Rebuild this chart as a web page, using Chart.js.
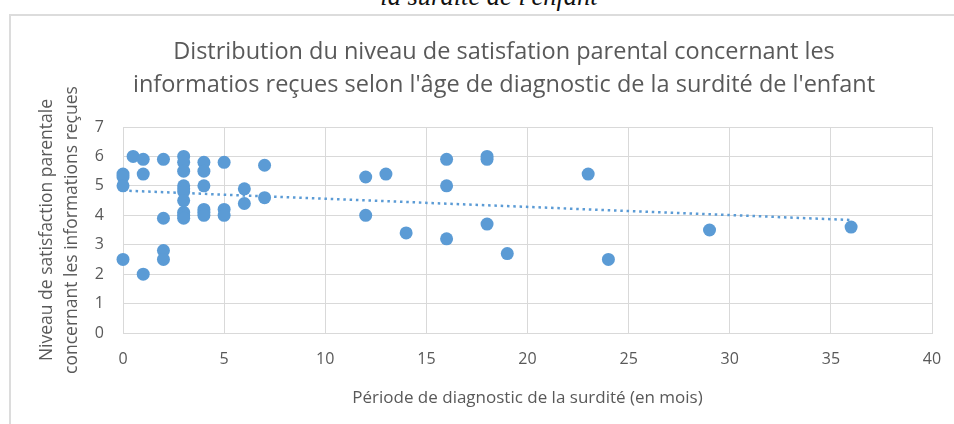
<!DOCTYPE html>
<html>
<head>
<meta charset="utf-8">
<script src="https://cdn.jsdelivr.net/npm/chart.js@4.4.1/dist/chart.umd.min.js"></script>
<style>
    body { margin: 0; background: #fff; overflow: hidden; }
    .caption {
        position: absolute; left: 0; width: 978px; top: -19px;
        text-align: center; font: italic normal 26.5px "Liberation Serif", serif; color: #111;
    }
    .frame {
        position: absolute; left: 9px; top: 14px; width: 980px; height: 440px;
        border: 2px solid #dcdcdc; box-sizing: border-box;
    }
    #scatterChart { position: absolute; left: 0; top: 0; }
</style>
</head>
<body>
<div class="caption">la surdité de l'enfant</div>
<div class="frame"></div>
<canvas id="scatterChart" width="954" height="424"></canvas>
<script>
// Age at diagnosis (months) and satisfaction score, one entry per parent
const diagMonths = [
    0, 0, 0, 0,
    0.5,
    1, 1, 1,
    2, 2, 2, 2,
    3, 3, 3, 3, 3, 3, 3, 3, 3, 3,
    4, 4, 4, 4, 4, 4,
    5, 5, 5,
    6, 6,
    7, 7,
    12, 12, 13, 14,
    16, 16, 16,
    18, 18, 18,
    19, 23, 24, 29, 36
];
const satisfaction = [
    5.4, 5.3, 5.0, 2.5,
    6.0,
    5.9, 5.4, 2.0,
    5.9, 3.9, 2.8, 2.5,
    6.0, 5.8, 5.5, 5.0, 4.9, 4.8, 4.5, 4.1, 4.0, 3.9,
    5.8, 5.5, 5.0, 4.2, 4.1, 4.0,
    5.8, 4.2, 4.0,
    4.9, 4.4,
    5.7, 4.6,
    5.3, 4.0, 5.4, 3.4,
    5.9, 5.0, 3.2,
    6.0, 5.9, 3.7,
    2.7, 5.4, 2.5, 3.5, 3.6
];

// Linear trendline, endpoints
const trendX = [0, 36];
const trendY = [4.84, 3.84];

const xTicks = [0, 5, 10, 15, 20, 25, 30, 35, 40];
const yTicks = [0, 1, 2, 3, 4, 5, 6, 7];

const titleLines = [
    'Distribution du niveau de satisfation parental concernant les',
    "informatios reçues selon l'âge de diagnostic de la surdité de l'enfant"
];
const xTitle = 'Période de diagnostic de la surdité (en mois)';
const yTitle = ['Niveau de satisfaction parentale', 'concernant les informations reçues'];

const blue = '#5b9bd5';
const gridColor = '#d9d9d9';
const textColor = '#595959';
const sans = '"Open Sans", sans-serif';

const points = diagMonths.map((m, i) => ({ x: m, y: satisfaction[i] }));
const trend = trendX.map((m, i) => ({ x: m, y: trendY[i] }));

// the title is centred on the whole frame, which runs past the right edge
const centreTitle = {
    id: 'centreTitle',
    afterLayout(chart) {
        if (chart.titleBlock) {
            chart.titleBlock.left = 10;
            chart.titleBlock.right = 998;
        }
    }
};

new Chart(document.getElementById('scatterChart'), {
    type: 'scatter',
    data: {
        datasets: [{
            label: 'Satisfaction',
            data: points,
            backgroundColor: blue,
            borderColor: blue,
            borderWidth: 0,
            pointRadius: 6.5,
            clip: false,
            order: 1
        }, {
            label: 'Tendance',
            type: 'line',
            data: trend,
            borderColor: blue,
            borderWidth: 2.5,
            borderDash: [2.5, 3.8],
            borderCapStyle: 'butt',
            pointRadius: 0,
            fill: false,
            order: 2
        }]
    },
    options: {
        responsive: false,
        animation: false,
        layout: { padding: { left: 10, right: 22, top: 0, bottom: 0 } },
        plugins: {
            legend: { display: false },
            tooltip: { enabled: false },
            title: {
                display: true,
                text: titleLines,
                color: textColor,
                font: { family: sans, size: 23.5, weight: 'normal', lineHeight: 33 / 23.5 },
                padding: { top: 35.5, bottom: 25.5 }
            }
        },
        scales: {
            x: {
                type: 'linear',
                min: 0,
                max: 40,
                afterBuildTicks: (scale) => { scale.ticks = xTicks.map(v => ({ value: v })); },
                afterFit: (scale) => {
                    scale.height = 91;
                    scale.paddingLeft = 0;
                    scale.paddingRight = 0;
                },
                grid: { color: gridColor, drawTicks: false },
                border: { color: gridColor },
                ticks: { color: textColor, padding: 17, font: { family: sans, size: 16, lineHeight: 1.2 } },
                title: {
                    display: true,
                    text: xTitle,
                    color: textColor,
                    font: { family: sans, size: 17, lineHeight: 1.2 },
                    padding: { top: 0, bottom: 15.8 }
                }
            },
            y: {
                type: 'linear',
                min: 0,
                max: 7,
                afterBuildTicks: (scale) => { scale.ticks = yTicks.map(v => ({ value: v })); },
                afterFit: (scale) => { scale.width = 113; },
                grid: { color: gridColor, drawTicks: false },
                border: { color: gridColor },
                ticks: { color: textColor, padding: 19, font: { family: sans, size: 16, lineHeight: 1.2 } },
                title: {
                    display: true,
                    text: yTitle,
                    color: textColor,
                    font: { family: sans, size: 17.5, lineHeight: 25 / 17.5 },
                    padding: { top: 24.5, bottom: 0 }
                }
            }
        }
    },
    plugins: [centreTitle]
});
</script>
</body>
</html>
